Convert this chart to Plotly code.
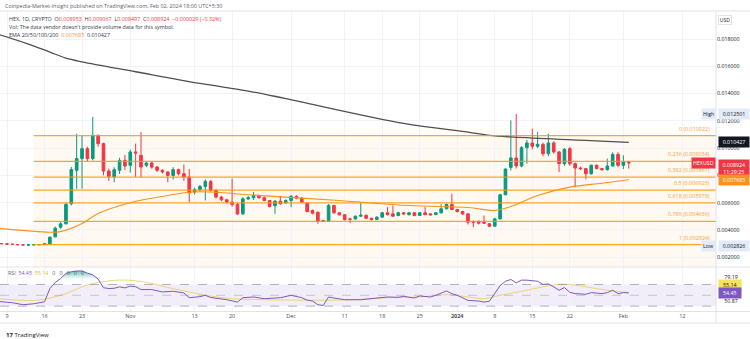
import plotly.graph_objects as go
import pandas as pd
import numpy as np

W, H = 750, 339
def px(x): return x / W
def py(y): return 1 - y / H

FONT = "Open Sans"
GREEN = "#089981"
RED = "#F23645"
ORANGE = "#F7931E"
FIB = "rgba(255,152,0,0.85)"
PURPLE = "#7E57C2"
YELLOW = "#EBCB4B"

# ---------------- data ----------------
start_date = "2023-10-07"
opens = [.00303, .00301, .00299, .00296, .00294, .00292, .00290, .00291, .00292, .00293,
         .00298, .00350, .00420, .00445, .00592, .00837, .00923, .00996, .00923, .01094,
         .01033, .00832, .00788, .00837, .00910, .00874, .00972, .00947, .00874, .00891,
         .00861, .00837, .00825, .00800, .00842, .00812, .00788, .00678, .00695, .00719,
         .00756, .00690, .00641, .00621, .00604, .00587, .00518, .00628, .00636, .00648,
         .00636, .00616, .00579, .00611, .00599, .00616, .00646, .00633, .00597, .00543,
         .00530, .00469, .00464, .00579, .00526, .00511, .00481, .00481, .00501, .00508,
         .00486, .00477, .00494, .00526, .00518, .00506, .00526, .00513, .00526, .00506,
         .00526, .00518, .00513, .00526, .00555, .00587, .00550, .00535, .00518, .00462,
         .00464, .00457, .00445, .00428, .00481, .00658, .00859, .00928, .00869, .01003,
         .01038, .01013, .01028, .00959, .01038, .00972, .00886, .00996, .00886, .00854,
         .00850, .00812, .00874, .00850, .00842, .00869, .00954, .00874, .008953]
highs = [.00306, .00304, .00302, .00299, .00297, .00295, .00294, .00295, .00295, .00300,
         .00352, .00425, .00458, .00600, .00862, .01106, .01094, .01010, .01229, .01100,
         .01040, .00850, .00860, .00930, .00950, .00990, .01033, .01118, .00900, .00900,
         .00870, .00845, .00830, .00860, .00850, .00880, .00847, .00710, .00730, .00770,
         .00765, .00700, .00650, .00630, .00776, .00600, .00640, .00650, .00678, .00660,
         .00645, .00620, .00620, .00650, .00625, .00655, .00655, .00640, .00600, .00550,
         .00535, .00475, .00590, .00585, .00530, .00515, .00490, .00505, .00600, .00512,
         .00490, .00500, .00532, .00567, .00580, .00532, .00530, .00532, .00530, .00530,
         .00567, .00522, .00530, .00590, .00595, .00665, .00555, .00540, .00522, .00470,
         .00468, .00506, .00450, .00490, .00665, .00850, .01204, .012501, .01015, .01060,
         .01143, .01119, .01040, .01106, .01050, .00980, .01000, .01010, .00895, .00865,
         .00855, .00880, .00880, .00855, .00923, .00970, .00970, .00947, .009067]
lows = [.00299, .00297, .00293, .00291, .00288, .00286, .002826, .00288, .00289, .00290,
        .00295, .00345, .00410, .00440, .00580, .00702, .00702, .00900, .00910, .01010,
        .00800, .00760, .00750, .00810, .00840, .00820, .00788, .00788, .00860, .00850,
        .00825, .00815, .00750, .00770, .00800, .00760, .00604, .00660, .00680, .00616,
        .00680, .00630, .00610, .00595, .00570, .00510, .00510, .00620, .00620, .00630,
        .00610, .00565, .00518, .00585, .00590, .00567, .00625, .00598, .00530, .00515,
        .00445, .00458, .00460, .00520, .00505, .00470, .00450, .00475, .00495, .00480,
        .00470, .00472, .00490, .00505, .00495, .00500, .00510, .00505, .00500, .00502,
        .00508, .00505, .00508, .00520, .00550, .00545, .00528, .00510, .00440, .00420,
        .00440, .00445, .00420, .00425, .00478, .00655, .00837, .00850, .00860, .00886,
        .00990, .01000, .00940, .00940, .00960, .00825, .00870, .00870, .00714, .00840,
        .00771, .00805, .00845, .00835, .00835, .00865, .00860, .00847, .008497]
closes = [.00301, .00299, .00296, .00294, .00292, .00290, .00291, .00292, .00293, .00298,
          .00347, .00413, .00445, .00587, .00842, .00923, .00996, .00923, .01094, .01033,
          .00832, .00793, .00842, .00910, .00869, .00972, .00964, .00861, .00891, .00861,
          .00837, .00825, .00800, .00842, .00812, .00788, .00673, .00695, .00719, .00756,
          .00690, .00641, .00621, .00604, .00587, .00518, .00628, .00636, .00653, .00636,
          .00616, .00572, .00611, .00592, .00616, .00648, .00633, .00604, .00535, .00523,
          .00464, .00464, .00579, .00526, .00511, .00477, .00478, .00501, .00508, .00486,
          .00477, .00494, .00526, .00513, .00501, .00526, .00518, .00526, .00506, .00526,
          .00513, .00511, .00526, .00555, .00587, .00550, .00535, .00518, .00457, .00457,
          .00450, .00450, .00428, .00481, .00658, .00847, .00928, .00869, .01003, .01038,
          .01013, .01028, .00959, .01038, .00972, .00886, .00991, .00886, .00854, .00850,
          .00812, .00874, .00850, .00842, .00869, .00954, .00874, .00898, .008924]

ema_fast_dates = ["2023-10-07", "2023-10-17", "2023-10-19", "2023-10-23", "2023-10-26", "2023-11-01",
                  "2023-11-08", "2023-11-12", "2023-11-17", "2023-11-23", "2023-12-10", "2023-12-23",
                  "2024-01-03", "2024-01-08", "2024-01-11", "2024-01-16", "2024-01-22", "2024-01-28",
                  "2024-02-02"]
ema_fast_vals = [0.00414, 0.00383, 0.00388, 0.00447, 0.00521, 0.00600, 0.00653, 0.00677, 0.00677,
                 0.00658, 0.00616, 0.00579, 0.00565, 0.00543, 0.00572, 0.00653, 0.00714, 0.00743,
                 0.007685]
ema_slow_dates = ["2023-10-07", "2023-10-13", "2023-10-17", "2023-10-20", "2023-10-23", "2023-11-02",
                  "2023-11-14", "2023-11-23", "2023-11-30", "2023-12-22", "2024-01-03", "2024-01-07",
                  "2024-01-11", "2024-02-02"]
ema_slow_vals = [0.01839, 0.01763, 0.01704, 0.01660, 0.01633, 0.01560, 0.01474, 0.01418, 0.01363,
                 0.01182, 0.01118, 0.01094, 0.01082, 0.010427]

rsi_dates = ["2023-10-07", "2023-10-08", "2023-10-10", "2023-10-12", "2023-10-14", "2023-10-16",
             "2023-10-17", "2023-10-18", "2023-10-19", "2023-10-20", "2023-10-21", "2023-10-22",
             "2023-10-23", "2023-10-24", "2023-10-25", "2023-10-26", "2023-10-27", "2023-10-28",
             "2023-10-29", "2023-10-30", "2023-10-31", "2023-11-01", "2023-11-02", "2023-11-03",
             "2023-11-05", "2023-11-07", "2023-11-09", "2023-11-11", "2023-11-12", "2023-11-14",
             "2023-11-15", "2023-11-16", "2023-11-19", "2023-11-21", "2023-11-22", "2023-11-24",
             "2023-11-26", "2023-11-29", "2023-12-01", "2023-12-03", "2023-12-04", "2023-12-05",
             "2023-12-06", "2023-12-07", "2023-12-08", "2023-12-09", "2023-12-11", "2023-12-14",
             "2023-12-16", "2023-12-18", "2023-12-19", "2023-12-21", "2023-12-22", "2023-12-24",
             "2023-12-25", "2023-12-27", "2023-12-28", "2023-12-30", "2023-12-31", "2024-01-01",
             "2024-01-03", "2024-01-05", "2024-01-06", "2024-01-07", "2024-01-08", "2024-01-09",
             "2024-01-10", "2024-01-11", "2024-01-12", "2024-01-13", "2024-01-14", "2024-01-15",
             "2024-01-16", "2024-01-17", "2024-01-18", "2024-01-19", "2024-01-20", "2024-01-21",
             "2024-01-22", "2024-01-23", "2024-01-24", "2024-01-25", "2024-01-26", "2024-01-27",
             "2024-01-28", "2024-01-29", "2024-01-30", "2024-01-31", "2024-02-01", "2024-02-02"]
rsi_vals = [39.0, 38.5, 36.3, 32.6, 34.4, 38.0,
            62.5, 73.7, 81.0, 90.5, 93.5, 94.9,
            95.0, 91.0, 88.0, 80.0, 64.0, 62.5,
            63.0, 65.6, 63.7, 67.0, 66.0, 60.6,
            60.6, 56.2, 57.5, 54.4, 45.6, 47.5,
            50.0, 46.0, 41.9, 37.5, 45.6, 46.9,
            43.8, 45.6, 50.0, 45.6, 41.0, 39.4,
            32.6, 31.3, 46.9, 45.0, 41.9, 41.9,
            43.8, 46.9, 46.9, 46.3, 48.1, 45.0,
            48.8, 46.9, 50.0, 58.1, 53.1, 50.0,
            40.6, 39.4, 37.5, 39.0, 54.0, 68.0,
            76.0, 79.2, 73.0, 78.0, 78.0, 77.5,
            76.0, 70.0, 71.0, 65.6, 59.3, 64.3,
            55.5, 53.1, 52.5, 51.9, 55.0, 54.0,
            53.1, 55.0, 59.3, 53.1, 55.0, 54.45]
rsi_ma_dates = ["2023-10-07", "2023-10-14", "2023-10-17", "2023-10-20", "2023-10-23", "2023-10-26",
                "2023-10-30", "2023-11-02", "2023-11-05", "2023-11-08", "2023-11-12", "2023-11-15",
                "2023-11-20", "2023-11-26", "2023-12-06", "2023-12-13", "2023-12-19", "2023-12-25",
                "2023-12-30", "2024-01-03", "2024-01-06", "2024-01-09", "2024-01-14", "2024-01-18",
                "2024-01-21", "2024-01-25", "2024-01-29", "2024-02-02"]
rsi_ma_vals = [44.0, 40.6, 45.0, 53.1, 65.6, 73.7, 78.2, 76.9, 71.9, 64.4, 56.2, 50.0,
               43.8, 41.9, 41.0, 41.9, 45.6, 46.9, 51.2, 46.9, 43.8, 50.0, 59.3, 67.5,
               70.6, 65.6, 59.3, 55.14]

fib_ratios = ["0", "0.236", "0.382", "0.5", "0.618", "0.786", "1"]
fib_prices = [0.010922, 0.009034, 0.007867, 0.006923, 0.005979, 0.004636, 0.002924]
fib_start = "2023-10-14"

price_ticks = [0.002, 0.004, 0.006, 0.008, 0.010, 0.012, 0.014, 0.016, 0.018]
price_tick_text = ["0.002000", "0.004000", "0.006000", "0.008000", "0.010000",
                   "0.012000", "0.014000", "0.016000", "0.018000"]
time_ticks = ["2023-10-09", "2023-10-16", "2023-10-23", "2023-11-01", "2023-11-13", "2023-11-20",
              "2023-12-01", "2023-12-11", "2023-12-18", "2023-12-25", "2024-01-01", "2024-01-08",
              "2024-01-15", "2024-01-22", "2024-02-01", "2024-02-12"]
time_tick_text = ["9", "16", "23", "Nov", "13", "20", "Dec", "11", "18", "25", "<b>2024</b>",
                  "8", "15", "22", "Feb", "12"]

last_close = 0.008924
ema_fast_last = 0.007685
ema_slow_last = 0.010427
range_high = 0.012501
range_low = 0.002826
rsi_last = 54.45
rsi_ma_last = 55.14

dates = pd.date_range(start_date, periods=len(opens), freq="D")

X0 = "2023-10-07 16:40"
X1 = "2024-02-18 06:40"
P_LO, P_HI = 0.0012845, 0.020053
R_LO, R_HI = 20.1, 102.3

fig = go.Figure()

# candles
fig.add_trace(go.Candlestick(
    x=dates, open=opens, high=highs, low=lows, close=closes,
    increasing=dict(line=dict(color=GREEN, width=1), fillcolor=GREEN),
    decreasing=dict(line=dict(color=RED, width=1), fillcolor=RED),
    whiskerwidth=0, xaxis="x", yaxis="y", hoverinfo="skip"))

fig.add_trace(go.Scatter(x=pd.to_datetime(ema_slow_dates), y=ema_slow_vals, mode="lines",
                         line=dict(color="#505050", width=1.3, shape="spline"),
                         xaxis="x", yaxis="y"))
fig.add_trace(go.Scatter(x=pd.to_datetime(ema_fast_dates), y=ema_fast_vals, mode="lines",
                         line=dict(color=ORANGE, width=1.1, shape="spline"),
                         xaxis="x", yaxis="y"))

# RSI pane
rsi_x = pd.to_datetime(rsi_dates)
rsi_arr = np.array(rsi_vals)
fig.add_trace(go.Scatter(x=rsi_x, y=np.full(len(rsi_arr), 70.0), mode="lines",
                         line=dict(width=0), xaxis="x", yaxis="y2", hoverinfo="skip"))
fig.add_trace(go.Scatter(x=rsi_x, y=np.maximum(rsi_arr, 70.0), mode="lines",
                         line=dict(width=0), fill="tonexty",
                         fillgradient=dict(type="vertical", start=70, stop=100,
                                           colorscale=[[0, "rgba(8,153,129,0)"],
                                                       [0.35, "rgba(8,153,129,0.02)"],
                                                       [1, "rgba(8,153,129,0.75)"]]),
                         xaxis="x", yaxis="y2", hoverinfo="skip"))
fig.add_trace(go.Scatter(x=pd.to_datetime(rsi_ma_dates), y=rsi_ma_vals, mode="lines",
                         line=dict(color=YELLOW, width=1, shape="spline"),
                         opacity=0.75, xaxis="x", yaxis="y2"))
fig.add_trace(go.Scatter(x=rsi_x, y=rsi_vals, mode="lines",
                         line=dict(color=PURPLE, width=1), xaxis="x", yaxis="y2"))

shapes = []
# fib fills
bands = fib_prices + [P_LO]
for a, b in zip(bands[:-1], bands[1:]):
    shapes.append(dict(type="rect", xref="x", yref="y", x0=fib_start, x1=X1, y0=b, y1=a,
                       fillcolor="rgba(255,152,0,0.055)", line=dict(width=0), layer="below"))
for p in fib_prices:
    shapes.append(dict(type="line", xref="x", yref="y", x0=fib_start, x1=X1, y0=p, y1=p,
                       line=dict(color=FIB, width=1.3), layer="above"))
# RSI band
shapes.append(dict(type="rect", xref="x domain", yref="y2", x0=0, x1=1, y0=30, y1=70,
                   fillcolor="rgba(126,87,194,0.10)", line=dict(width=0), layer="below"))
for lv, op in [(70, 0.55), (50, 0.35), (30, 0.55)]:
    shapes.append(dict(type="line", xref="x domain", yref="y2", x0=0, x1=1, y0=lv, y1=lv,
                       line=dict(color=f"rgba(120,123,134,{op})", width=1, dash="dash")))
# frame lines
SEP = "#E0E3EB"
for yy in [11, 267, 311.5, 323]:
    shapes.append(dict(type="line", xref="paper", yref="paper", x0=0, x1=1,
                       y0=py(yy), y1=py(yy), line=dict(color=SEP, width=1)))
shapes.append(dict(type="line", xref="paper", yref="paper", x0=px(716), x1=px(716),
                   y0=py(323), y1=py(11), line=dict(color=SEP, width=1)))

ann = []
def A(**kw):
    d = dict(showarrow=False, font=dict(family=FONT, size=5.5, color="#131722"))
    f = kw.pop("font", None)
    if f:
        d["font"].update(f)
    d.update(kw)
    ann.append(d)

# header
A(text="Coinpedia-Market-Insight published on TradingView.com, Feb 02, 2024 18:00 UTC+5:30",
  xref="paper", yref="paper", x=px(3), y=py(6), xanchor="left", yanchor="middle",
  font=dict(color="#5d606b", size=5.4))
r = RED
A(text=(f"HEX, 1D, CRYPTO  O<span style='color:{r}'>0.008953</span>  "
        f"H<span style='color:{r}'>0.009067</span>  L<span style='color:{r}'>0.008497</span>  "
        f"C<span style='color:{r}'>0.008924</span>  <span style='color:{r}'>−0.000029 (−0.32%)</span>"),
  xref="paper", yref="paper", x=px(7), y=py(19), xanchor="left", yanchor="middle",
  font=dict(color="#363a45", size=5.4))
A(text="Vol: The data vendor doesn't provide volume data for this symbol.",
  xref="paper", yref="paper", x=px(7), y=py(27.5), xanchor="left", yanchor="middle",
  font=dict(color="#363a45", size=5.4))
A(text=(f"EMA 20/50/100/200  <span style='color:{ORANGE}'>{ema_fast_last:.6f}</span>  "
        f"{ema_slow_last:.6f}"),
  xref="paper", yref="paper", x=px(7), y=py(35), xanchor="left", yanchor="middle",
  font=dict(color="#363a45", size=5.4))

# fib labels
for rt, p in zip(fib_ratios, fib_prices):
    A(text=f"{rt} ({p:.6f})", xref="paper", yref="y", x=px(712), y=p, xanchor="right",
      yanchor="bottom", yshift=1, font=dict(color="#F5A04A", size=5.4))

# price-axis tags
AX = px(717.5)
A(text="USD", xref="paper", yref="paper", x=AX, y=py(20), xanchor="left", yanchor="middle",
  bordercolor="#d1d4dc", borderwidth=0.6, borderpad=1.2, font=dict(color="#131722", size=5))
A(text="High", xref="paper", yref="y", x=px(715.5), y=range_high, xanchor="right",
  yanchor="middle", bgcolor="#E3EAF8", borderpad=1, font=dict(color="#131722", size=5.3))
A(text=f"{range_high:.6f}", xref="paper", yref="y", x=AX, y=range_high, xanchor="left",
  yanchor="middle", bgcolor="#E3EAF8", borderpad=1, width=28, font=dict(color="#131722", size=5.3))
A(text="Low", xref="paper", yref="y", x=px(715.5), y=range_low, xanchor="right",
  yanchor="middle", bgcolor="#E3EAF8", borderpad=1, font=dict(color="#131722", size=5.3))
A(text=f"{range_low:.6f}", xref="paper", yref="y", x=AX, y=range_low, xanchor="left",
  yanchor="middle", bgcolor="#E3EAF8", borderpad=1, width=28, font=dict(color="#131722", size=5.3))
A(text=f"{ema_slow_last:.6f}", xref="paper", yref="y", x=AX, y=ema_slow_last, xanchor="left",
  yanchor="middle", bgcolor="#131722", borderpad=1, width=28, font=dict(color="white", size=5.3))
A(text="HEXUSD", xref="paper", yref="y", x=px(715.5), y=last_close, xanchor="right",
  yanchor="middle", bgcolor=RED, borderpad=1, font=dict(color="white", size=5.3))
A(text=f"{last_close:.6f}<br>11:29:25", xref="paper", yref="y", x=AX, y=last_close,
  xanchor="left", yanchor="top", yshift=4.2, bgcolor=RED, borderpad=0.8, width=28,
  font=dict(color="white", size=5.3))
A(text=f"{ema_fast_last:.6f}", xref="paper", yref="y", x=AX, y=ema_fast_last, xanchor="left",
  yanchor="middle", bgcolor="#F7931E", borderpad=1, width=28, font=dict(color="white", size=5.3))

# RSI legend + tags
A(text=(f"RSI  <span style='color:{PURPLE}'>{rsi_last:.2f}</span>  "
        f"<span style='color:#E1B92E'>{rsi_ma_last:.2f}</span>"
        "\u00a0\u00a0\u00a00\u00a0\u00a0\u00a00\u00a0\u00a0\u00a00\u00a0\u00a0\u00a00\u00a0\u00a0\u00a00"),
  xref="paper", yref="paper", x=px(6), y=py(273), xanchor="left", yanchor="middle",
  font=dict(color="#5d606b", size=5.3))
A(text="79.19", xref="paper", yref="paper", x=AX, y=py(276.7), xanchor="left", yanchor="middle",
  width=22, font=dict(color="#131722", size=5.3))
A(text=f"{rsi_ma_last:.2f}", xref="paper", yref="paper", x=AX, y=py(285), xanchor="left",
  yanchor="middle", bgcolor="#F5E35A", borderpad=0.8, width=20, font=dict(color="#131722", size=5.3))
A(text=f"{rsi_last:.2f}", xref="paper", yref="paper", x=AX, y=py(293), xanchor="left",
  yanchor="middle", bgcolor=PURPLE, borderpad=0.8, width=20, font=dict(color="white", size=5.3))
A(text="50.87", xref="paper", yref="paper", x=AX, y=py(300.7), xanchor="left", yanchor="middle",
  width=22, font=dict(color="#131722", size=5.3))

# footer logo
A(text="<b>17</b>\u00a0TradingView", xref="paper", yref="paper", x=px(4), y=py(334.5),
  xanchor="left", yanchor="middle", font=dict(color="#131722", size=6))

fig.update_layout(
    width=W, height=H, margin=dict(l=0, r=0, t=0, b=0),
    paper_bgcolor="white", plot_bgcolor="white", showlegend=False,
    font=dict(family=FONT, size=5.5, color="#131722"),
    xaxis=dict(domain=[0, px(716)], range=[X0, X1], anchor="y2", type="date",
               tickvals=time_ticks, ticktext=time_tick_text, ticks="", showline=False,
               showgrid=True, gridcolor="#F0F3FA", gridwidth=1, zeroline=False,
               tickfont=dict(family=FONT, size=5.5, color="#4a4d57"),
               rangeslider=dict(visible=False), fixedrange=True),
    yaxis=dict(domain=[py(267), py(11)], range=[P_LO, P_HI], side="right", anchor="x",
               tickvals=price_ticks, ticktext=price_tick_text, ticks="", showline=False,
               showgrid=True, gridcolor="#F0F3FA", zeroline=False,
               tickfont=dict(family=FONT, size=5.3, color="#131722")),
    yaxis2=dict(domain=[py(311.5), py(267)], range=[R_LO, R_HI], side="right", anchor="x",
                showticklabels=False, showgrid=False, zeroline=False, showline=False),
    shapes=shapes, annotations=ann,
)

fig.write_html("out.html")
